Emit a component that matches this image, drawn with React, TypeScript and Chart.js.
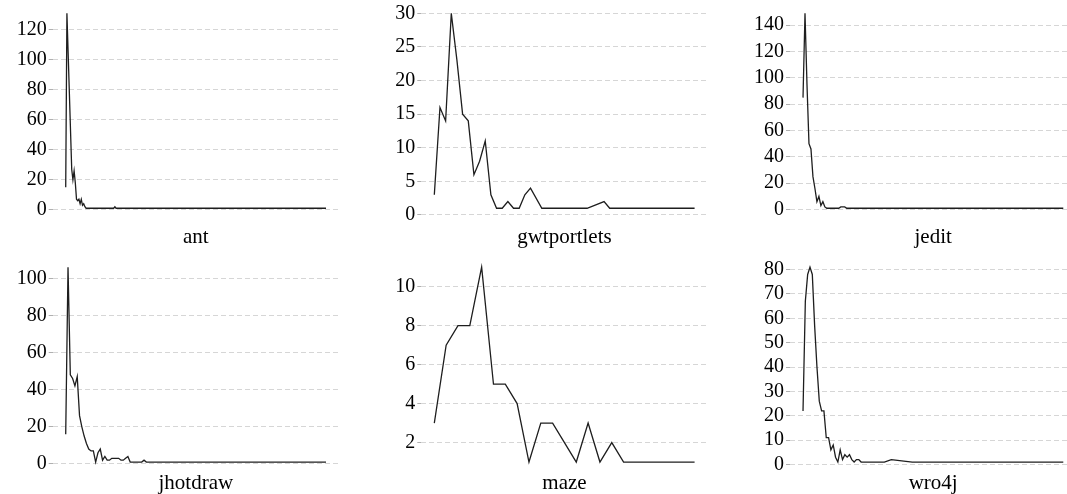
import React, { useEffect, useRef } from "react";
import { Chart, registerables } from "chart.js";

Chart.register(...registerables);

// ---------- data (x = rank index, y = count) ----------
const antX = [0, 1, 5, 6, 7, 8, 9, 10, 11, 12, 13, 14, 15, 16, 17, 40, 41, 42, 217];
const antY = [15, 131, 27, 20, 26, 18, 7, 6, 7, 4, 7, 3, 4, 2, 1, 1, 2, 1, 1];
const antTicks = [0, 20, 40, 60, 80, 100, 120];

const gwtX = [0, 1, 2, 3, 4, 5, 6, 7, 8, 9, 10, 11, 12, 13, 14, 15, 16, 17, 19, 27, 30, 31, 46];
const gwtY = [3, 16, 14, 30, 23, 15, 14, 6, 8, 11, 3, 1, 1, 2, 1, 1, 3, 4, 1, 1, 2, 1, 1];
const gwtTicks = [0, 5, 10, 15, 20, 25, 30];

const jeditX = [0, 1, 2, 3, 4, 5, 6, 7, 8, 9, 10, 11, 12, 18, 19, 21, 22, 131];
const jeditY = [85, 149, 95, 50, 46, 25, 16, 6, 10, 3, 6, 2, 1, 1, 2, 2, 1, 1];
const jeditTicks = [0, 20, 40, 60, 80, 100, 120, 140];

const jhotX = [0, 1, 2, 3, 4, 5, 6, 7, 8, 9, 10, 11, 12, 13, 14, 15, 16, 17, 18, 19, 20, 21, 22, 23, 24, 25, 26, 27, 28, 33, 34, 35, 113];
const jhotY = [16, 106, 48, 46, 42, 47, 26, 20, 15, 11, 8, 7, 7, 1, 6, 8, 2, 4, 2, 2, 3, 3, 3, 3, 2, 2, 3, 4, 1, 1, 2, 1, 1];
const jhotTicks = [0, 20, 40, 60, 80, 100];

const mazeX = [0, 1, 2, 3, 4, 5, 6, 7, 8, 9, 10, 11, 12, 13, 14, 15, 16, 22];
const mazeY = [3, 7, 8, 8, 11, 5, 5, 4, 1, 3, 3, 2, 1, 3, 1, 2, 1, 1];
const mazeTicks = [2, 4, 6, 8, 10];

const wroX = [0, 1, 2, 3, 4, 5, 6, 7, 8, 9, 10, 11, 12, 13, 14, 15, 16, 17, 18, 19, 20, 21, 22, 23, 24, 25, 35, 38, 47, 112];
const wroY = [22, 67, 78, 81, 78, 57, 40, 26, 22, 22, 11, 11, 6, 8, 3, 1, 6, 2, 4, 3, 4, 2, 1, 2, 2, 1, 1, 2, 1, 1];
const wroTicks = [0, 10, 20, 30, 40, 50, 60, 70, 80];

const panelNames = ["ant", "gwtportlets", "jedit", "jhotdraw", "maze", "wro4j"];
const panelXs = [antX, gwtX, jeditX, jhotX, mazeX, wroX];
const panelYs = [antY, gwtY, jeditY, jhotY, mazeY, wroY];
const panelTicks = [antTicks, gwtTicks, jeditTicks, jhotTicks, mazeTicks, wroTicks];

// ---------- layout ----------
const COL_LEFT = [52.7, 421.3, 790];
const ROW_TOP = [3.6, 257.4];
const PLOT_W = 286.3;
const PLOT_H = 214.4;
const Y_AXIS_W = 52;
const X_AXIS_H = 40;
const TITLE_PAD = [7.5, 16];
const FONT = '"Liberation Serif", "Times New Roman", serif';

function Panel({ idx }: { idx: number }) {
  const ref = useRef<HTMLCanvasElement>(null);
  const col = idx % 3;
  const row = Math.floor(idx / 3);
  const L = COL_LEFT[col];
  const T = ROW_TOP[row];
  const cl = Math.floor(L) - Y_AXIS_W;
  const ct = Math.floor(T) - 15;
  const padL = L - Y_AXIS_W - cl;
  const padT = T - ct;
  const cw = 350;
  const ch = Math.ceil(padT + PLOT_H + X_AXIS_H);
  const padR = cw - padL - Y_AXIS_W - PLOT_W;
  const padB = ch - padT - PLOT_H - X_AXIS_H;

  useEffect(() => {
    const xs = panelXs[idx];
    const ys = panelYs[idx];
    const ymin = Math.min(...ys);
    const ymax = Math.max(...ys);
    const yr = ymax - ymin;
    const xmin = Math.min(...xs);
    const xmax = Math.max(...xs);
    const xr = xmax - xmin;
    const ticks = panelTicks[idx];
    const chart = new Chart(ref.current as HTMLCanvasElement, {
      type: "line",
      data: {
        datasets: [
          {
            data: xs.map((x, i) => ({ x, y: ys[i] })),
            borderColor: "#1e1e1e",
            borderWidth: 1.3,
            pointRadius: 0,
            tension: 0,
            fill: false,
          },
        ],
      },
      options: {
        animation: false,
        responsive: false,
        maintainAspectRatio: false,
        devicePixelRatio: 1,
        layout: { padding: { left: padL, top: padT, right: padR, bottom: padB } },
        plugins: { legend: { display: false }, tooltip: { enabled: false } },
        scales: {
          x: {
            type: "linear",
            min: xmin - 0.05 * xr,
            max: xmax + 0.05 * xr,
            grid: { display: false },
            border: { display: false },
            ticks: { display: false },
            title: {
              display: true,
              text: panelNames[idx],
              color: "#000",
              font: { family: FONT, size: 21 },
              padding: { top: 0, bottom: TITLE_PAD[row] },
            },
            afterFit: (s: any) => {
              s.height = X_AXIS_H;
            },
          },
          y: {
            type: "linear",
            min: ymin - 0.05 * yr,
            max: ymax + 0.05 * yr,
            afterFit: (s: any) => {
              s.width = Y_AXIS_W;
            },
            afterBuildTicks: (s: any) => {
              s.ticks = ticks.map((v) => ({ value: v }));
            },
            grid: {
              color: "#d6d6d6",
              lineWidth: 1,
              drawTicks: true,
              tickLength: 4,
              tickColor: "#b0b0b0",
              tickBorderDash: [],
            },
            border: { display: false, dash: [5, 3] },
            ticks: {
              color: "#000",
              padding: 2,
              autoSkip: false,
              font: { family: FONT, size: 20 },
            },
          },
        },
      },
    } as any);
    return () => chart.destroy();
  }, [idx]);

  return (
    <canvas
      ref={ref}
      width={cw}
      height={ch}
      style={{ position: "absolute", left: cl, top: ct, width: cw, height: ch }}
    />
  );
}

export default function App() {
  useEffect(() => {
    document.body.style.margin = "0";
    document.body.style.background = "#fff";
  }, []);
  return (
    <div
      style={{
        position: "relative",
        width: 1067,
        height: 494,
        overflow: "hidden",
        background: "#fff",
      }}
    >
      {panelNames.map((_, i) => (
        <Panel key={i} idx={i} />
      ))}
    </div>
  );
}
